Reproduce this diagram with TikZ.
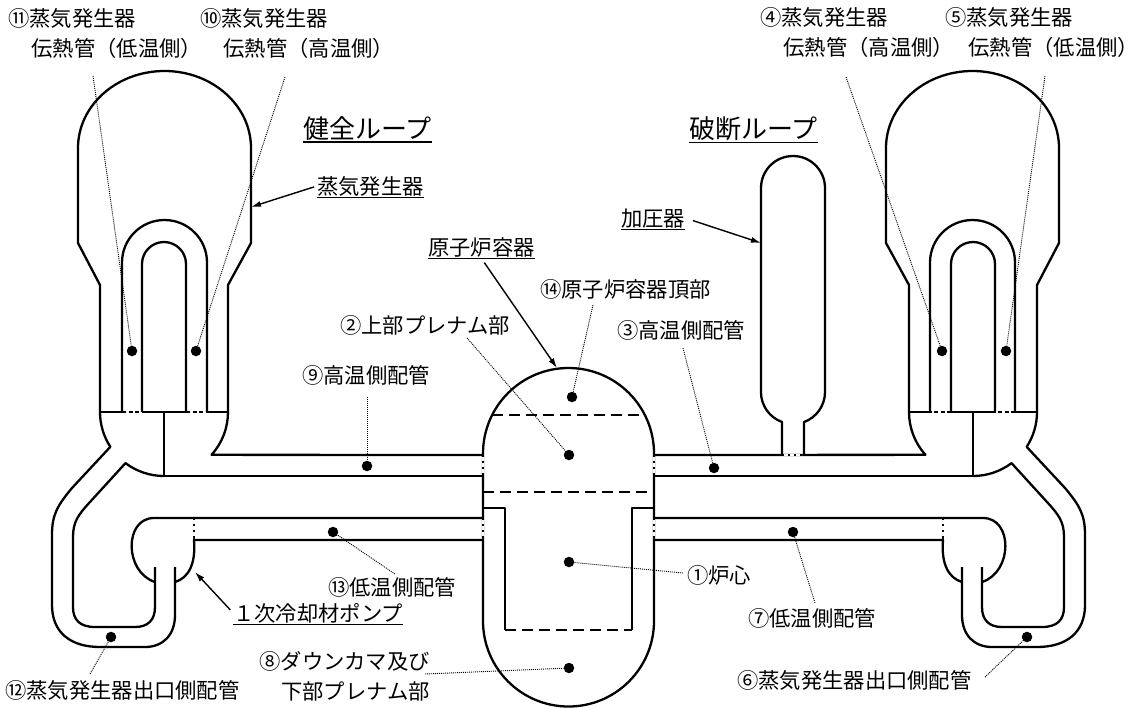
\documentclass[tikz,border=0pt]{standalone}
\usepackage{fontspec}
\setmainfont{Noto Sans CJK JP}
\usetikzlibrary{arrows.meta}

\tikzset{
  pipe/.style={line width=2.3pt, line join=round},
  plate/.style={line width=2.3pt, dash pattern=on 11pt off 6pt},
  tsheet/.style={line width=1.2pt, dash pattern=on 4pt off 2.5pt},
  joint/.style={white, line width=2.9pt, dash pattern=on 4pt off 2pt},
  dot/.style={circle, fill, inner sep=0pt, minimum size=10.5pt},
  leader/.style={line width=0.9pt, dash pattern=on 1pt off 1pt},
  arr/.style={line width=1.4pt, -{Latex[length=10pt,width=6pt]}},
  lbl/.style={inner sep=0pt, font=\fontsize{21.3}{29.5}\selectfont},
  head/.style={inner sep=0pt, font=\fontsize{26}{30}\selectfont},
  ul/.style={inner ysep=1.5pt, append after command={(\tikzlastnode.south west) edge[line width=1.8pt] (\tikzlastnode.south east)}},
}
\newcommand{\rpar}{\makebox[0.5em][l]{）}}

\newcommand{\drawloop}{%
  \draw[pipe] (100,412) -- (100,285) -- (78,243) -- (78,148)
    arc[start angle=180, end angle=360, x radius=86.5, y radius=77]
    -- (251,243) -- (228,285) -- (228,412);
  \draw[pipe] (100,412) -- (122,412) (142,412) -- (186,412) (207,412) -- (228,412);
  \draw[tsheet] (122,412) -- (142,412) (186,412) -- (207,412);
  \draw[pipe] (122,412) -- (122,262.5) arc[start angle=180, end angle=360, radius=42.5] -- (207,412);
  \draw[pipe] (142,412) -- (142,264) arc[start angle=180, end angle=360, radius=22] -- (186,412);
  \draw[pipe] (164,412) -- (164,476);
  \draw[pipe] (100,412) arc[start angle=180, end angle=147, radius=64] -- (72,488)
    .. controls (57,506) and (52,515) .. (52,535) -- (52,605)
    .. controls (52,632) and (70,647) .. (100,647) -- (145,647)
    .. controls (163,647) and (175,635) .. (175,615) -- (175,567);
  \draw[pipe] (164,476) arc[start angle=90, end angle=127, radius=64] -- (90,502)
    .. controls (78,515) and (73,522) .. (73,537) -- (73,607)
    .. controls (73,620) and (80,627) .. (95,627) -- (135,627)
    .. controls (148,627) and (155,620) .. (155,607) -- (155,567);
  \draw[pipe] (228,412) arc[start angle=0, end angle=42, radius=64] -- (483,455);
  \draw[pipe] (164,476) -- (483,476);
  \draw[pipe] (483,518) -- (154,518) .. controls (124,518) and (124,572) .. (155,582);
  \draw[pipe] (483,540) -- (194,540) .. controls (196,565) and (188,578) .. (175,582);
  \draw[pipe] (194,518) -- (194,540);
  \draw[joint] (194,520) -- (194,538);
}

\begin{document}
\begin{tikzpicture}[x=1pt, y=1pt, yscale=-1]
  \useasboundingbox (0,0) rectangle (1137,709);

  \drawloop
  \begin{scope}[xshift=1137pt, xscale=-1]
    \drawloop
  \end{scope}

  \draw[pipe] (483,453.5) arc[start angle=180, end angle=360, radius=85.5]
    -- (654,621) arc[start angle=0, end angle=180, radius=85.5] -- cycle;
  \draw[joint] (483,457) -- (483,474) (483,520) -- (483,538)
    (654,457) -- (654,474) (654,520) -- (654,538);
  \draw[plate] (492,415) -- (645,415);
  \draw[plate] (483,492) -- (654,492);
  \draw[pipe] (483,508) -- (505,508) -- (505,630);
  \draw[pipe] (654,508) -- (632,508) -- (632,630);
  \draw[plate] (505,630) -- (632,630);

  \draw[pipe] (782,455) -- (782,422) arc[start angle=110, end angle=180, radius=32]
    -- (761,188) arc[start angle=180, end angle=360, radius=32]
    -- (825,392) arc[start angle=0, end angle=70, radius=32] -- (804,455);
  \draw[joint] (784,455) -- (802,455);

  \node[dot] (d11) at (132,351) {};
  \node[dot] (d10) at (196,351) {};
  \node[dot] (d4) at (942,351) {};
  \node[dot] (d5) at (1006,351) {};
  \node[dot] (d9) at (367,466) {};
  \node[dot] (d3) at (714,468) {};
  \node[dot] (d13) at (333,532) {};
  \node[dot] (d7) at (793,532) {};
  \node[dot] (d12) at (111,637) {};
  \node[dot] (d6) at (1027,637) {};
  \node[dot] (d14) at (572,397) {};
  \node[dot] (d2) at (569,455) {};
  \node[dot] (d1) at (569,562) {};
  \node[dot] (d8) at (569,668) {};

  \node[lbl, anchor=base west, align=left] (t11) at (8,56.5) {⑪蒸気発生器\\\hspace*{1.1em}伝熱管（低温側\rpar};
  \node[lbl, anchor=base west, align=left] (t10) at (200,56.5) {⑩蒸気発生器\\\hspace*{1.1em}伝熱管（高温側\rpar};
  \node[lbl, anchor=base west, align=left] (t4) at (760,55.5) {④蒸気発生器\\\hspace*{1.1em}伝熱管（高温側\rpar};
  \node[lbl, anchor=base west, align=left] (t5) at (945,55.5) {⑤蒸気発生器\\\hspace*{1.1em}伝熱管（低温側\rpar};
  \node[head, ul, anchor=base west] (hKen) at (303,138.5) {健全ループ};
  \node[head, ul, anchor=base west] (hHa) at (689,138.5) {破断ループ};
  \node[lbl, ul, anchor=base west] (lSG) at (317,194) {蒸気発生器};
  \node[lbl, ul, anchor=base west] (lPZR) at (621,226) {加圧器};
  \node[lbl, ul, anchor=base west] (lRV) at (428,255) {原子炉容器};
  \node[lbl, anchor=base west] (t14) at (540,297) {⑭原子炉容器頂部};
  \node[lbl, anchor=base west] (t2) at (340,333) {②上部プレナム部};
  \node[lbl, anchor=base west] (t3) at (617,338) {③高温側配管};
  \node[lbl, anchor=base west] (t9) at (302,383) {⑨高温側配管};
  \node[lbl, anchor=base west] (t1) at (687,583) {①炉心};
  \node[lbl, anchor=base west] (t13) at (328,595) {⑬低温側配管};
  \node[lbl, ul, anchor=base west] (lRCP) at (233,621) {１次冷却材ポンプ};
  \node[lbl, anchor=base west] (t7) at (748,626) {⑦低温側配管};
  \node[lbl, anchor=base east, align=right] (t8) at (430,699) {⑧ダウンカマ及び\\下部プレナム部};
  \node[lbl, anchor=base west] (t6) at (737,688) {⑥蒸気発生器出口側配管};
  \node[lbl, anchor=base west] (t12) at (5,698) {⑫蒸気発生器出口側配管};

  \coordinate (c11) at (93,76);
  \coordinate (c10) at (285,77);
  \coordinate (c4) at (846,77);
  \coordinate (c5) at (1045,76);
  \coordinate (c14) at (593,305);
  \coordinate (c2) at (467,338);
  \coordinate (c3) at (683,348);
  \coordinate (c9) at (367,397);
  \coordinate (c1) at (683,573);
  \coordinate (c13) at (395,574);
  \coordinate (c7) at (815,603);
  \coordinate (c8) at (425,674);
  \coordinate (c12) at (90,674);
  \coordinate (c6) at (985,677);
  \foreach \n in {11,10,4,5,14,2,3,9,1,13,7,8,12,6}
    \draw[leader] (c\n) -- (d\n);

  \coordinate (sgwall) at (251,207);
  \coordinate (pzrwall) at (761,243);
  \coordinate (rvtop) at (557,368);
  \coordinate (pumpcase) at (195,572);
  \draw[arr, shorten <=3pt] (lSG.west) -- (sgwall);
  \draw[arr, shorten <=8pt] (lPZR.east) -- (pzrwall);
  \draw[arr, shorten <=5pt] (lRV.south) -- (rvtop);
  \draw[arr, shorten <=4pt] (lRCP.west) -- (pumpcase);
\end{tikzpicture}
\end{document}
